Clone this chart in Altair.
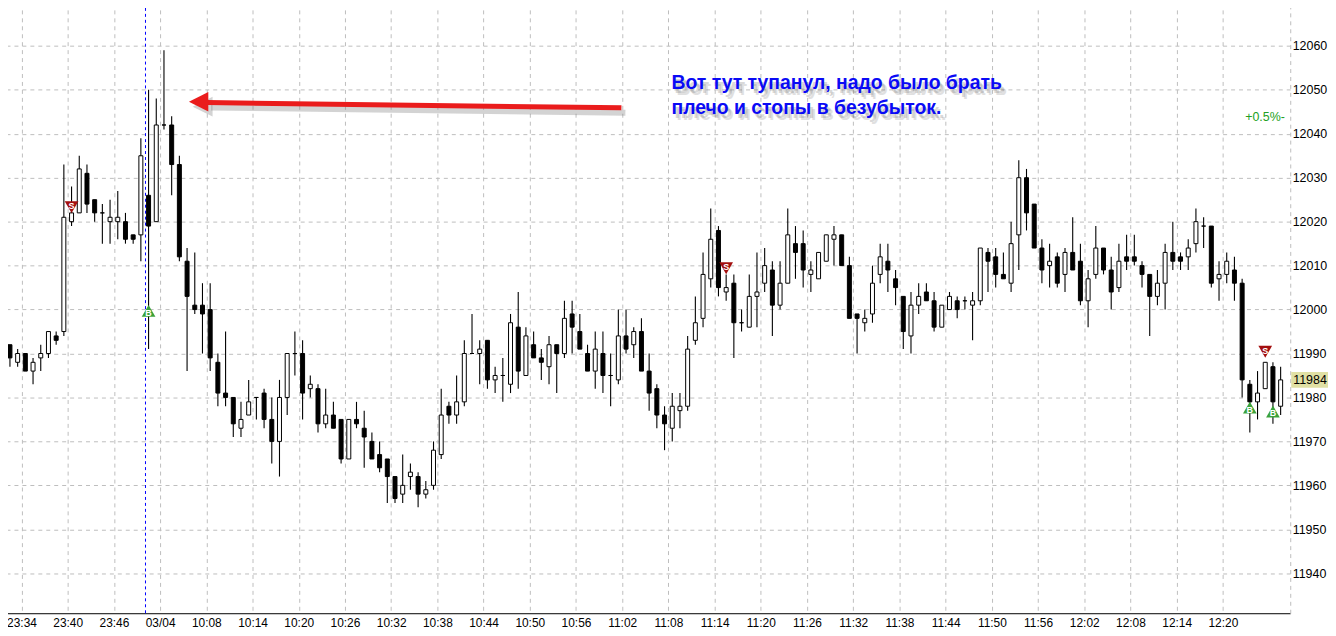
import altair as alt
import pandas as pd

# ---------------- data ----------------
opens = [11992, 11988, 11990, 11986, 11989, 11990, 11994, 11995, 12020, 12022,
         12031, 12025, 12022, 12020, 12020, 12020, 12017, 12017, 12026, 12020,
         12042, 12042, 12033, 12011, 12001, 12001, 12000, 11988, 11981, 11980,
         11973, 11976, 11980, 11981, 11975, 11970, 11980, 11990, 11990, 11982,
         11982, 11974, 11976, 11975, 11966, 11975, 11973, 11970, 11967, 11966,
         11962, 11958, 11962, 11962, 11958, 11960, 11967, 11978, 11976, 11979,
         11990, 11990, 11993, 11984, 11985, 11983, 11996, 11985, 11992, 11989,
         11987, 11992, 11990, 11999, 11995, 11990, 11986, 11990, 11985, 11984,
         11994, 11992, 11995, 11986, 11982, 11976, 11973, 11977, 11978, 11993,
         11998, 12007, 12018, 12004, 12006, 11997, 11996, 12003, 12006, 12009,
         12001, 12006, 12015, 12015, 12008, 12007, 12011, 12016, 12017, 12010,
         11999, 11997, 11999, 12008, 12011, 12007, 12003, 11994, 12001, 12004,
         12002, 11996, 12000, 12002, 12002, 12001, 12002, 12013, 12012, 12008,
         12006, 12017, 12030, 12024, 12014, 12010, 12012, 12008, 12013, 12011,
         12002, 12008, 12014, 12009, 12005, 12012, 12012, 12010, 12008, 12003,
         12006, 12013, 12012, 12012, 12015, 12019, 12019, 12007, 12008, 12009,
         12006, 11983, 11979, 11982, 11987, 11978]
highs = [11992, 11991, 11990, 11989, 11992, 11995, 11995, 12033, 12028, 12035,
         12033, 12025, 12024, 12025, 12027, 12022, 12017, 12039, 12050, 12048,
         12059, 12044, 12035, 12014, 12013, 12006, 12006, 11990, 11995, 11980,
         11979, 11984, 11980, 11982, 11980, 11984, 11990, 11995, 11993, 11985,
         11983, 11982, 11979, 11975, 11975, 11979, 11977, 11972, 11970, 11966,
         11962, 11967, 11965, 11963, 11961, 11970, 11982, 11979, 11985, 11993,
         11999, 11993, 11993, 11987, 11989, 11999, 12004, 11996, 11995, 11991,
         11994, 11992, 12002, 12002, 11999, 11992, 11995, 11995, 11990, 12000,
         12000, 11996, 11998, 11990, 11983, 11978, 11981, 11981, 11994, 12003,
         12013, 12023, 12019, 12008, 12008, 12000, 12008, 12013, 12014, 12011,
         12011, 12023, 12019, 12018, 12011, 12013, 12017, 12019, 12017, 12012,
         11999, 12000, 12010, 12015, 12015, 12009, 12003, 12004, 12006, 12006,
         12004, 12001, 12004, 12003, 12003, 12004, 12014, 12014, 12014, 12013,
         12020, 12034, 12032, 12024, 12016, 12015, 12013, 12014, 12021, 12015,
         12009, 12019, 12014, 12012, 12015, 12017, 12017, 12011, 12008, 12009,
         12015, 12020, 12013, 12016, 12023, 12021, 12019, 12011, 12013, 12012,
         12007, 11984, 11986, 11988, 11988, 11987]
lows = [11987, 11987, 11986, 11983, 11986, 11989, 11992, 11994, 12019, 12022,
        12022, 12020, 12015, 12015, 12016, 12015, 12015, 12011, 11991, 12020,
        12041, 12026, 12011, 11986, 11999, 11990, 11986, 11978, 11978, 11971,
        11971, 11976, 11975, 11973, 11965, 11962, 11976, 11985, 11975, 11980,
        11972, 11973, 11973, 11965, 11966, 11973, 11964, 11966, 11963, 11956,
        11956, 11956, 11959, 11955, 11957, 11959, 11966, 11974, 11974, 11978,
        11990, 11983, 11982, 11981, 11979, 11981, 11982, 11985, 11989, 11984,
        11983, 11981, 11989, 11990, 11991, 11986, 11982, 11981, 11978, 11983,
        11990, 11989, 11986, 11977, 11973, 11968, 11970, 11973, 11977, 11992,
        11996, 12005, 12003, 12002, 11989, 11995, 11996, 11996, 12004, 11994,
        12000, 12006, 12007, 12005, 12004, 12007, 12011, 12010, 12010, 11998,
        11990, 11995, 11997, 12006, 12004, 12001, 11991, 11990, 11999, 12002,
        11995, 11996, 12000, 11998, 12000, 11993, 12001, 12004, 12005, 12007,
        12004, 12009, 12018, 12014, 12006, 12005, 12005, 12004, 12009, 12001,
        11996, 12007, 12008, 12000, 12004, 12009, 12010, 12005, 11994, 12001,
        12000, 12009, 12009, 12009, 12013, 12014, 12005, 12002, 12006, 12002,
        11980, 11972, 11975, 11982, 11974, 11976]
closes = [11989, 11990, 11986, 11988, 11990, 11995, 11993, 12021, 12022, 12032,
          12024, 12022, 12022, 12021, 12021, 12016, 12016, 12035, 12019, 12042,
          12042, 12033, 12012, 12003, 12000, 11999, 11989, 11981, 11980, 11974,
          11975, 11979, 11980, 11975, 11970, 11980, 11990, 11990, 11981, 11983,
          11974, 11976, 11973, 11966, 11975, 11974, 11971, 11966, 11964, 11962,
          11957, 11960, 11963, 11958, 11959, 11968, 11976, 11976, 11979, 11990,
          11990, 11991, 11984, 11985, 11985, 11997, 11986, 11994, 11989, 11988,
          11992, 11990, 11998, 11996, 11991, 11986, 11991, 11985, 11985, 11994,
          11991, 11995, 11986, 11981, 11976, 11974, 11978, 11978, 11991, 11997,
          12008, 12016, 12005, 12005, 11997, 11997, 12003, 12004, 12010, 12001,
          12006, 12017, 12013, 12009, 12009, 12013, 12017, 12017, 12010, 11998,
          11998, 11998, 12006, 12012, 12009, 12005, 11995, 12001, 12003, 12002,
          11996, 12001, 12003, 12000, 12002, 12002, 12014, 12011, 12008, 12007,
          12015, 12030, 12022, 12014, 12009, 12011, 12006, 12013, 12009, 12002,
          12007, 12014, 12009, 12004, 12011, 12011, 12011, 12008, 12003, 12006,
          12013, 12011, 12011, 12014, 12020, 12019, 12006, 12008, 12011, 12006,
          11984, 11979, 11981, 11988, 11979, 11984]

tick_labels = ["23:34", "23:40", "23:46", "03/04", "10:08", "10:14", "10:20",
               "10:26", "10:32", "10:38", "10:44", "10:50", "10:56", "11:02",
               "11:08", "11:14", "11:20", "11:26", "11:32", "11:38", "11:44",
               "11:50", "11:56", "12:02", "12:08", "12:14", "12:20"]
first_tick = 1.5      # bar index of the first time label
tick_step = 6         # one label every 6 one-minute bars
price_ticks = list(range(11940, 12071, 10))

sell_bars = [8, 93, 163]
sell_prices = [12023.3, 12009.4, 11990.4]
buy_bars = [18, 161, 164]
buy_prices = [11999.7, 11977.7, 11976.8]

session_break = [17.6]

note_lines = ["Вот тут тупанул, надо было брать", "плечо и стопы в безубыток."]
note_bar = [85.9, 85.9]
note_price = [12050.2, 12044.4]

arrow_tail = (79.4, 12045.9)
arrow_base = (25.6, 12047.1)
arrow_head = (24.5, 12047.3)

pct_text = ["+0.5%-"]
pct_bar = [165.55]
pct_price = [12043.8]

# ---------------- styling ----------------
FONT = "Liberation Sans"
GRID = "#bdbdbd"

n = len(opens)
df = pd.DataFrame({"i": list(range(n)), "o": opens, "h": highs, "l": lows, "c": closes})
df["dir"] = ["up" if c >= o else "down" for o, c in zip(opens, closes)]

xs = alt.Scale(domain=[-0.64, 165.6], nice=False, zero=False)
ys = alt.Scale(domain=[11930.9, 12070], nice=False, zero=False)

tick_vals = [first_tick + tick_step * k for k in range(len(tick_labels))]
label_expr = ("[" + ",".join("'%s'" % t for t in tick_labels) + "]"
              + "[round((datum.value - %s) / %s)]" % (first_tick, tick_step))

x_axis = alt.Axis(values=tick_vals, labelExpr=label_expr, grid=True, gridColor=GRID,
                  gridDash=[4, 4], gridWidth=1, ticks=False, domain=True,
                  domainColor="black", domainWidth=1, labelFont=FONT, labelFontSize=12,
                  labelColor="black", labelPadding=4, labelBaseline="top", labelAngle=0,
                  labelOverlap=False, labelFlush=False, title=None)
y_axis = alt.Axis(orient="right", values=price_ticks, format="d", grid=True,
                  gridColor=GRID, gridDash=[4, 4], gridWidth=1, ticks=False,
                  domain=True, domainColor=GRID, domainDash=[4, 4], labelFont=FONT,
                  labelFontSize=12.5, labelColor="black", labelPadding=2,
                  labelAlign="left", labelBaseline="middle", labelOverlap=False,
                  labelFlush=False, title=None)


def X(field):
    return alt.X(field, type="quantitative", scale=xs, axis=x_axis)


def Y(field):
    return alt.Y(field, type="quantitative", scale=ys, axis=y_axis)


base = alt.Chart(df)

wicks = base.mark_rule(color="black", strokeWidth=1.1).encode(x=X("i"), y=Y("l"), y2="h")
bodies = base.mark_bar(size=4, stroke="black", strokeWidth=1, orient="vertical").encode(
    x=X("i"), y=Y("o"), y2="c",
    fill=alt.Fill("dir:N", scale=alt.Scale(domain=["up", "down"], range=["white", "black"]),
                  legend=None))

brk = alt.Chart(pd.DataFrame({"i": session_break})).mark_rule(
    color="#0000ff", strokeDash=[3, 3], strokeWidth=1).encode(x=X("i"))

sell_df = pd.DataFrame({"i": sell_bars, "p": sell_prices})
buy_df = pd.DataFrame({"i": buy_bars, "p": buy_prices})
sell_tri = alt.Chart(sell_df).mark_point(shape="triangle-down", filled=True, size=190,
                                         color="#a30f0f", opacity=1).encode(x=X("i"), y=Y("p"))
sell_txt = alt.Chart(sell_df).mark_text(text="S", color="white", fontSize=9, font=FONT,
                                        fontWeight="bold", dy=-1).encode(x=X("i"), y=Y("p"))
buy_tri = alt.Chart(buy_df).mark_point(shape="triangle-up", filled=True, size=190,
                                       color="#3aa23a", opacity=1).encode(x=X("i"), y=Y("p"))
buy_txt = alt.Chart(buy_df).mark_text(text="B", color="white", fontSize=9, font=FONT,
                                      fontWeight="bold", dy=2).encode(x=X("i"), y=Y("p"))

arrow_df = pd.DataFrame({"x0": [arrow_tail[0]], "y0": [arrow_tail[1]],
                         "x1": [arrow_base[0]], "y1": [arrow_base[1]]})
head_df = pd.DataFrame({"x": [arrow_head[0]], "y": [arrow_head[1]]})
HEAD = "M-1,0L1,-1L1,1Z"
arrow_shadow = alt.Chart(arrow_df).mark_rule(
    strokeWidth=6, color="#808080", opacity=0.35, strokeCap="butt",
    xOffset=4, yOffset=5, x2Offset=4, y2Offset=5).encode(
    x=X("x0"), x2="x1", y=Y("y0"), y2="y1")
head_shadow = alt.Chart(head_df).mark_point(
    shape=HEAD, size=400, filled=True, color="#808080", opacity=0.35,
    xOffset=4, yOffset=5).encode(x=X("x"), y=Y("y"))
arrow = alt.Chart(arrow_df).mark_rule(strokeWidth=5, color="#ea1c1c", strokeCap="butt").encode(
    x=X("x0"), x2="x1", y=Y("y0"), y2="y1")
head = alt.Chart(head_df).mark_point(shape=HEAD, size=380, filled=True, color="#ea1c1c",
                                     opacity=1).encode(x=X("x"), y=Y("y"))

note_df = pd.DataFrame({"t": note_lines, "x": note_bar, "y": note_price})
note_shadow1 = alt.Chart(note_df).mark_text(
    align="left", baseline="alphabetic", font=FONT, fontSize=19.5, fontWeight="bold",
    color="#6a6a6a", opacity=0.25, dx=3, dy=4).encode(x=X("x"), y=Y("y"), text="t:N")
note_shadow2 = alt.Chart(note_df).mark_text(
    align="left", baseline="alphabetic", font=FONT, fontSize=19.5, fontWeight="bold",
    color="#6a6a6a", opacity=0.2, dx=5, dy=6).encode(x=X("x"), y=Y("y"), text="t:N")
note = alt.Chart(note_df).mark_text(
    align="left", baseline="alphabetic", font=FONT, fontSize=19.5, fontWeight="bold",
    color="#0a0af5").encode(x=X("x"), y=Y("y"), text="t:N")

pct = alt.Chart(pd.DataFrame({"t": pct_text, "x": pct_bar, "y": pct_price})).mark_text(
    align="right", baseline="middle", font=FONT, fontSize=12.5, color="#22a022").encode(
    x=X("x"), y=Y("y"), text="t:N")

last_df = pd.DataFrame({"p": [closes[-1]], "t": [str(closes[-1])]})
last_box = alt.Chart(last_df).mark_point(
    shape="M0,-0.42H2V0.42H0Z", size=1444, filled=True, color="#e0e0a4", opacity=1).encode(
    x=alt.value(1299), y=Y("p"))
last_txt = alt.Chart(last_df).mark_text(
    align="left", baseline="middle", font=FONT, fontSize=12.5, color="black").encode(
    x=alt.value(1301), y=Y("p"), text="t:N")

chart = alt.layer(
    brk, wicks, bodies, sell_tri, sell_txt, buy_tri, buy_txt,
    arrow_shadow, head_shadow, arrow, head,
    note_shadow2, note_shadow1, note, pct, last_box, last_txt
).properties(
    width=1298, height=615, autosize="none",
    padding={"left": -8, "top": -8, "right": 38, "bottom": 21},
    background="white"
).configure_view(stroke=None)

chart.save("out.html", embed_options={"renderer": "svg", "actions": False})
